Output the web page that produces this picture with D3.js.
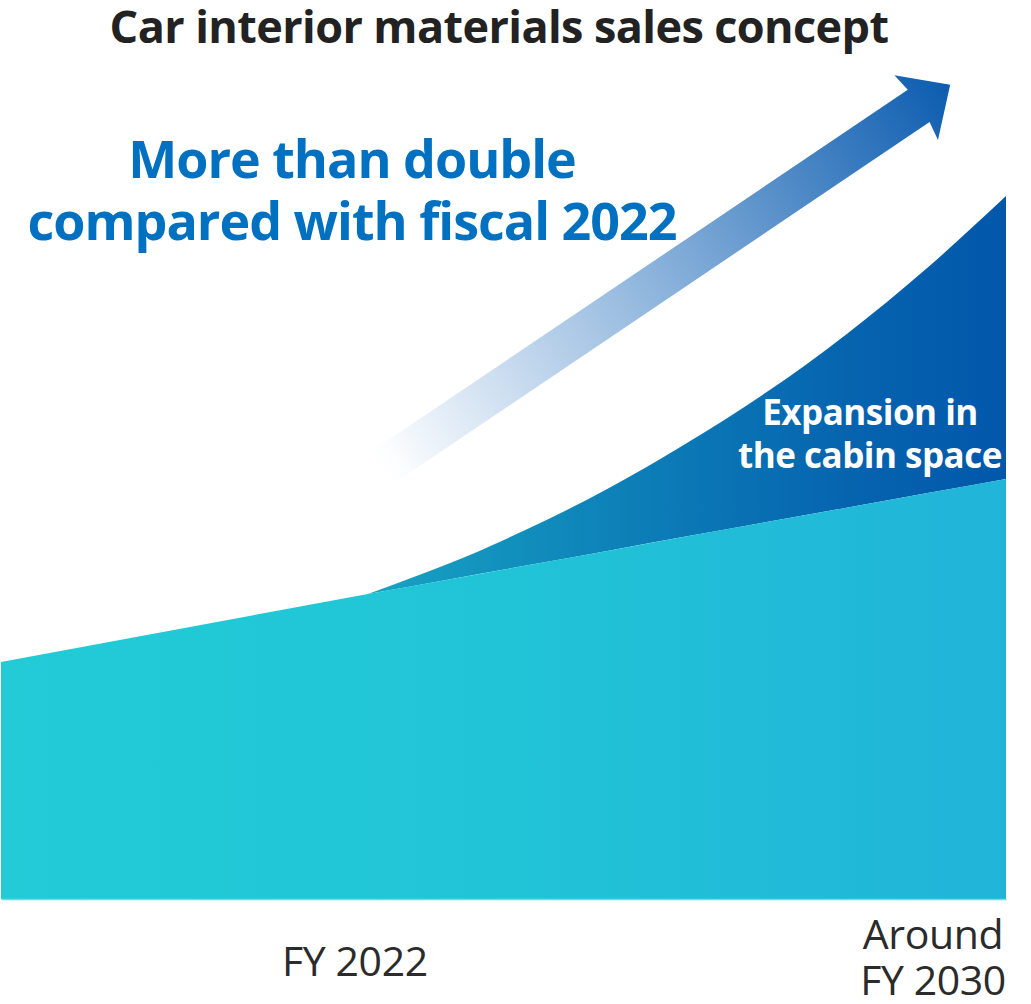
<!DOCTYPE html>
<html>
<head>
<meta charset="utf-8">
<script src="https://cdn.jsdelivr.net/npm/d3@7"></script>
<style>
  html, body { margin: 0; padding: 0; background: #ffffff; }
  svg { display: block; }
  text { font-family: "Open Sans", "Noto Sans", sans-serif; }
</style>
</head>
<body>
<svg id="chart" width="1031" height="1004"></svg>
<script>
// Fiscal years on the horizontal axis
const years = [2022, 2023, 2024, 2025, 2026, 2027, 2028, 2029, 2030];
// Existing interior-materials business, index (FY2022 = 100)
const baseSales = [100, 104.7, 109.4, 114.1, 118.9, 123.6, 128.3, 133.0, 137.7];
// Total including the cabin-space expansion, index (FY2022 = 100)
const totalSales = [100, 109.8, 121.3, 134.4, 149.5, 166.2, 185.2, 206.6, 230.5];
// Where the existing-business trend enters from the left
const baseStart = { year: 2017.4, value: 77.7 };
// Growth arrow, from its faded tail to its tip
const arrowFrom = { year: 2022.1, value: 140 };
const arrowTo = { year: 2029.3, value: 267 };
// Axis labels
const axisLabels = [
  { year: 2022, lines: ["FY 2022"] },
  { year: 2030, lines: ["Around", "FY 2030"] }
];
const titleText = "Car interior materials sales concept";
const headline = ["More than double", "compared with fiscal 2022"];
const expansionLabel = ["Expansion in", "the cabin space"];

const svg = d3.select("#chart");

const x = d3.scaleLinear().domain([2017.4, 2030]).range([1, 1006]);
const y = d3.scaleLinear().domain([0, 100]).range([899, 594]);

const defs = svg.append("defs");

const baseGrad = defs.append("linearGradient")
  .attr("id", "baseGrad")
  .attr("gradientUnits", "userSpaceOnUse")
  .attr("x1", x(baseStart.year)).attr("x2", x(2030))
  .attr("y1", 0).attr("y2", 0);
baseGrad.append("stop").attr("offset", 0).attr("stop-color", "#22cbd6");
baseGrad.append("stop").attr("offset", 0.5).attr("stop-color", "#21c4d7");
baseGrad.append("stop").attr("offset", 1).attr("stop-color", "#21b4d9");

const expGrad = defs.append("linearGradient")
  .attr("id", "expGrad")
  .attr("gradientUnits", "userSpaceOnUse")
  .attr("x1", x(2022)).attr("x2", x(2030))
  .attr("y1", 0).attr("y2", 0);
expGrad.append("stop").attr("offset", 0).attr("stop-color", "#17a3c3");
expGrad.append("stop").attr("offset", 0.4).attr("stop-color", "#0d80b8");
expGrad.append("stop").attr("offset", 0.75).attr("stop-color", "#0664af");
expGrad.append("stop").attr("offset", 1).attr("stop-color", "#0257aa");

// Expansion band between the base trend and the total
const expData = years.map((yr, i) => ({ year: yr, lo: baseSales[i], hi: totalSales[i] }));
const expArea = d3.area()
  .x(d => x(d.year))
  .y0(d => y(d.lo))
  .y1(d => y(d.hi))
  .curve(d3.curveNatural);
svg.append("path")
  .datum(expData)
  .attr("d", expArea)
  .attr("fill", "url(#expGrad)");

// Existing business area
const baseData = [baseStart].concat(years.map((yr, i) => ({ year: yr, value: baseSales[i] })));
const baseArea = d3.area()
  .x(d => x(d.year))
  .y0(y(0))
  .y1(d => y(d.value))
  .curve(d3.curveLinear);
svg.append("path")
  .datum(baseData)
  .attr("d", baseArea)
  .attr("fill", "url(#baseGrad)");

// Baseline
const axis = d3.axisBottom(x).tickValues([]).tickSizeOuter(0);
const axisG = svg.append("g")
  .attr("transform", `translate(0,${y(0)})`)
  .call(axis);
axisG.select(".domain").attr("stroke", "#6fdbe6").attr("stroke-width", 1.5);

// Growth arrow
const p0 = [x(arrowFrom.year), y(arrowFrom.value)];
const p1 = [x(arrowTo.year), y(arrowTo.value)];
const L = Math.hypot(p1[0] - p0[0], p1[1] - p0[1]);
const ang = Math.atan2(p1[1] - p0[1], p1[0] - p0[0]) * 180 / Math.PI;
const shaftHalf = 19.5, headHalf = 39, headLen = 38;

const arrowG = svg.append("g")
  .attr("transform", `translate(${p0[0]},${p0[1]}) rotate(${ang})`);
const arrowGrad = defs.append("linearGradient")
  .attr("id", "arrowGrad")
  .attr("gradientUnits", "userSpaceOnUse")
  .attr("x1", 0).attr("y1", 0).attr("x2", L).attr("y2", 0);
arrowGrad.append("stop").attr("offset", 0).attr("stop-color", "#ffffff").attr("stop-opacity", 0);
arrowGrad.append("stop").attr("offset", 0.06).attr("stop-color", "#f4f8fc").attr("stop-opacity", 1);
arrowGrad.append("stop").attr("offset", 0.45).attr("stop-color", "#96badf");
arrowGrad.append("stop").attr("offset", 1).attr("stop-color", "#0c5caf");

const arrowPts = [
  [0, -shaftHalf], [L - headLen, -shaftHalf], [L - headLen - 3, -headHalf],
  [L, 0],
  [L - headLen - 3, headHalf], [L - headLen, shaftHalf], [0, shaftHalf]
];
arrowG.append("path")
  .attr("d", d3.line()(arrowPts) + "Z")
  .attr("fill", "url(#arrowGrad)");

// Title
svg.append("text")
  .attr("x", 499).attr("y", 43)
  .attr("text-anchor", "middle")
  .attr("font-size", 45)
  .attr("font-weight", 700)
  .attr("letter-spacing", -0.6)
  .attr("fill", "#222222")
  .text(titleText);

// Headline
svg.append("g").selectAll("text")
  .data(headline)
  .join("text")
  .attr("x", 352)
  .attr("y", (d, i) => 178 + i * 62)
  .attr("text-anchor", "middle")
  .attr("font-size", 52)
  .attr("font-weight", 700)
  .attr("letter-spacing", -1)
  .attr("fill", "#0070c0")
  .text(d => d);

// Label on the expansion band
svg.append("g").selectAll("text")
  .data(expansionLabel)
  .join("text")
  .attr("x", 870)
  .attr("y", (d, i) => 425 + i * 43)
  .attr("text-anchor", "middle")
  .attr("font-size", 35)
  .attr("font-weight", 700)
  .attr("letter-spacing", -0.5)
  .attr("fill", "#ffffff")
  .text(d => d);

// Axis labels
const labelOffset = { 2022: -13, 2030: -73 };
axisLabels.forEach(lbl => {
  const n = lbl.lines.length;
  svg.append("g").selectAll("text")
    .data(lbl.lines)
    .join("text")
    .attr("x", x(lbl.year) + labelOffset[lbl.year])
    .attr("y", (d, i) => (n === 1 ? 976 : 949 + i * 46))
    .attr("text-anchor", "middle")
    .attr("font-size", 41)
    .attr("font-weight", 400)
    .attr("letter-spacing", -0.4)
    .attr("fill", "#2b2b2b")
    .text(d => d);
});
</script>
</body>
</html>
